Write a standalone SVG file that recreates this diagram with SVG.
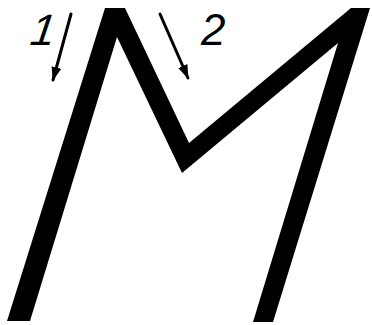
<svg xmlns="http://www.w3.org/2000/svg" width="372" height="325" viewBox="0 0 372 325">
  <style>
    .letter { fill: #000; stroke: none; }
    .arrow { stroke: #000; stroke-width: 3; fill: none; stroke-linecap: round; }
    .label { font-family: "Liberation Sans", Arial, sans-serif; font-style: italic; font-size: 44px; fill: #000; }
  </style>
  <defs>
    <marker id="head" markerUnits="userSpaceOnUse" markerWidth="14" markerHeight="14" viewBox="0 0 14 14" refX="13" refY="7" orient="auto">
      <path d="M0,2 L14,7 L0,12 Z" fill="#000"/>
    </marker>
  </defs>
  <rect width="372" height="325" fill="#fff"/>
  <g id="letter-M">
    <polygon class="letter" points="7,321 105,8 125,8 189,143 351,8 370,8 273,322 253,322 338,43 182,173 117,37 30,321"/>
  </g>
  <g id="connectors">
    <line class="arrow" x1="71" y1="14" x2="53" y2="80" marker-end="url(#head)"/>
    <line class="arrow" x1="160" y1="14" x2="188" y2="78" marker-end="url(#head)"/>
  </g>
  <g id="label-1">
    <text class="label" transform="translate(29,45) skewX(-8)">1</text>
  </g>
  <g id="label-2">
    <text class="label" x="201" y="45">2</text>
  </g>
</svg>
